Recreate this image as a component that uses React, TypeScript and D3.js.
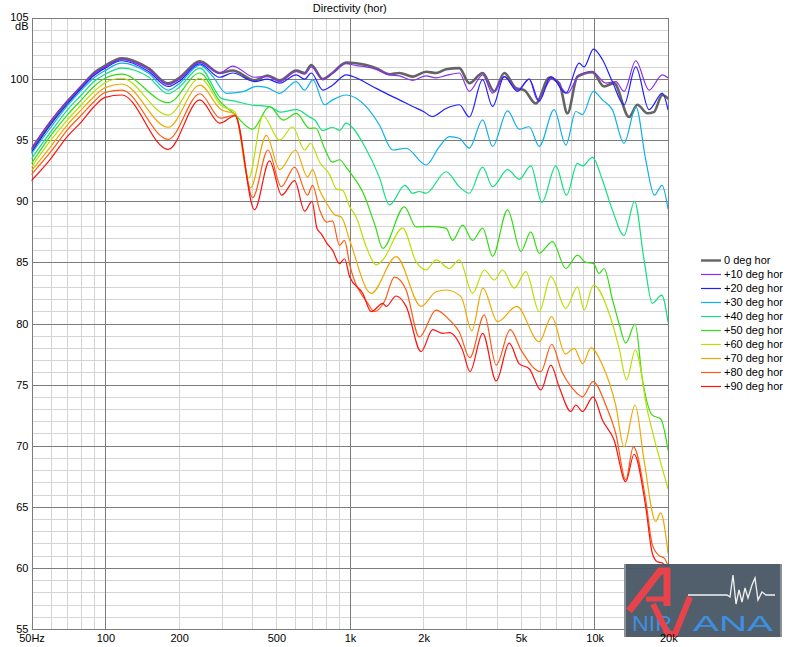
import React from 'react';
import * as d3 from 'd3';

type Pt = [number, number];

const TITLE = 'Directivity (hor)';
const Y_UNIT = 'dB';

const SERIES_NAMES = ['0 deg hor', '+10 deg hor', '+20 deg hor', '+30 deg hor', '+40 deg hor', '+50 deg hor', '+60 deg hor', '+70 deg hor', '+80 deg hor', '+90 deg hor'];
const SERIES_COLORS = ['#646464', '#8c2cf0', '#2020ff', '#10b0e8', '#10e080', '#30dd10', '#b8e000', '#f0a800', '#ff5a10', '#ff1010'];

const deg0: Pt[] = [[50,94.2],[60,96.5],[70,98.15],[80,99.4],[90,100.5],[100,101.1],[117,101.7],[150,100.9],[181,99.65],[200,100.07],[244,101.45],[294,100.5],[332,100.7],[408,99.9],[461,100.3],[517,99.9],[604,100.7],[654,100.5],[696,101.15],[776,100.0],[850,100.5],[967,101.35],[1063,101.3],[1167,101.15],[1282,100.9],[1453,100.4],[1596,100.5],[1809,100.2],[2051,100.6],[2254,100.5],[2476,100.8],[2805,100.9],[3081,99.67],[3493,100.5],[3898,99.0],[4281,100.5],[4780,99.26],[5165,99.1],[5765,98.0],[6535,100.1],[7180,99.67],[7760,97.2],[8525,100.2],[9820,100.57],[10955,99.4],[12035,99.67],[13865,96.9],[14990,97.9],[16465,97.2],[17500,97.3],[18960,98.7],[20000,98.4]];

const deg10: Pt[] = [[50,94.35],[60,96.6],[70,98.2],[80,99.45],[90,100.45],[100,101.0],[117,101.6],[150,100.8],[181,99.55],[200,99.95],[244,101.35],[294,100.5],[332,101.07],[408,100.15],[461,100.2],[517,99.8],[604,100.6],[654,100.4],[696,101.0],[776,99.95],[850,100.5],[967,101.26],[1063,101.1],[1167,101.0],[1282,100.8],[1453,100.35],[1596,100.27],[1809,99.9],[2051,100.27],[2254,100.1],[2476,100.3],[2805,100.5],[3081,99.0],[3493,100.35],[3836,98.85],[4281,100.2],[4850,99.1],[5415,100.0],[5855,98.3],[6740,100.1],[7760,98.85],[8665,100.35],[9820,100.6],[11130,99.67],[12230,99.8],[13225,99.0],[14765,101.5],[16730,99.1],[18960,100.35],[20000,100.1]];

const deg20: Pt[] = [[50,94.0],[60,96.3],[70,97.95],[80,99.25],[90,100.3],[100,100.9],[117,101.5],[150,100.65],[181,99.4],[200,99.8],[244,101.25],[294,100.15],[332,100.5],[408,99.8],[461,100.0],[517,99.67],[604,100.35],[654,100.0],[696,100.5],[776,99.1],[850,99.5],[967,100.35],[1063,100.1],[1240,99.4],[1400,98.85],[1596,98.3],[1809,97.76],[2000,97.35],[2170,96.94],[2476,97.6],[2805,97.9],[3081,96.9],[3493,99.95],[3836,97.76],[4281,100.2],[4850,99.0],[5415,100.0],[5950,98.2],[6640,100.2],[7645,98.85],[8665,101.3],[9080,101.0],[9915,102.46],[10785,101.6],[11845,99.8],[13225,97.9],[14765,101.0],[16730,97.5],[18960,98.85],[20000,97.5]];

const deg30: Pt[] = [[50,93.9],[60,96.06],[70,97.8],[80,99.1],[90,100.1],[100,100.7],[117,101.3],[150,100.5],[181,99.1],[200,99.6],[244,101.15],[276,100.2],[313,98.84],[366,98.97],[415,99.4],[456,99.33],[517,98.84],[604,99.8],[654,99.1],[707,99.93],[789,97.9],[852,98.3],[967,98.7],[1063,98.43],[1167,97.74],[1322,96.24],[1499,94.2],[1700,94.34],[2051,92.97],[2325,94.47],[2554,95.3],[2805,95.16],[3081,94.35],[3493,96.67],[3836,94.5],[4418,97.4],[4930,95.9],[5415,96.1],[5950,94.5],[6850,97.5],[7645,94.6],[8400,97.35],[8940,97.1],[9915,99.0],[10785,98.3],[11845,97.5],[13225,94.75],[14800,97.7],[16215,93.4],[17600,90.5],[18900,91.3],[20000,89.4]];

const deg40: Pt[] = [[50,93.5],[60,95.7],[70,97.47],[80,98.7],[90,99.8],[100,100.4],[117,100.9],[150,100.2],[181,98.8],[200,99.3],[244,100.9],[300,98.4],[340,98.2],[390,97.9],[470,97.75],[520,97.3],[605,97.5],[685,96.9],[720,96.65],[775,95.8],[850,96.06],[910,95.8],[965,96.4],[1030,96.0],[1150,94.5],[1320,92.0],[1453,89.7],[1680,91.3],[1810,90.66],[1925,90.8],[2050,90.66],[2476,92.42],[2805,91.2],[3081,90.66],[3493,92.8],[3836,91.2],[4418,92.6],[4930,91.8],[5500,92.9],[6100,89.9],[6960,92.9],[7690,90.5],[8525,93.1],[8940,92.9],[9820,93.6],[10785,91.75],[11845,89.3],[13225,87.2],[14600,90.0],[15965,85.2],[17255,81.65],[18850,82.33],[20000,80.15]];

const deg50: Pt[] = [[50,93.1],[60,95.4],[70,97.06],[80,98.3],[90,99.4],[100,100.07],[117,100.4],[181,98.07],[244,100.5],[294,98.2],[335,97.2],[400,95.9],[470,97.74],[535,96.65],[605,97.2],[685,95.97],[725,96.0],[790,94.3],[850,93.2],[910,93.4],[965,92.8],[1000,92.4],[1140,90.6],[1270,88.0],[1365,86.15],[1673,89.55],[1867,87.9],[2116,87.95],[2476,87.8],[2633,86.8],[2893,88.05],[3179,86.8],[3493,87.8],[3836,85.5],[4418,89.3],[5010,85.9],[5500,87.5],[5950,85.75],[6740,86.7],[7645,84.5],[8525,85.6],[9225,85.0],[9915,84.9],[10455,84.1],[10955,84.5],[11845,82.0],[12615,80.0],[13440,78.4],[14670,79.96],[15700,75.5],[17255,72.5],[18670,72.2],[20000,69.65]];

const deg60: Pt[] = [[50,92.8],[60,95.0],[70,96.65],[80,97.9],[90,98.97],[100,99.7],[117,100.07],[181,97.06],[244,100.07],[300,97.8],[340,97.3],[386,91.9],[442,97.0],[517,95.0],[584,96.1],[654,94.2],[691,94.75],[753,93.2],[827,92.2],[883,91.0],[934,90.9],[1000,89.56],[1063,88.7],[1167,86.3],[1282,84.8],[1365,85.2],[1646,87.8],[1867,85.06],[2051,84.38],[2254,85.2],[2554,84.5],[2805,85.2],[3179,82.47],[3548,84.38],[3898,83.56],[4213,84.38],[4704,82.9],[5250,84.24],[5950,80.97],[6640,83.83],[7645,81.24],[8525,83.0],[9080,81.1],[9915,83.15],[11485,80.84],[12615,78.0],[13540,75.4],[14700,77.83],[16465,72.9],[18380,69.1],[20000,66.5]];

const deg70: Pt[] = [[50,92.5],[60,94.5],[70,96.24],[80,97.5],[90,98.56],[100,99.3],[117,99.6],[181,96.06],[244,99.5],[298,97.5],[340,97.15],[393,91.1],[456,95.4],[517,92.6],[600,94.2],[672,92.0],[705,92.6],[753,90.9],[796,90.0],[867,88.9],[925,88.7],[1000,86.8],[1224,82.47],[1548,85.47],[1957,81.4],[2254,82.6],[2476,82.74],[2850,82.2],[3155,79.4],[3500,82.9],[4020,80.15],[4815,81.4],[5950,78.5],[6690,80.56],[7620,77.5],[8270,77.97],[8965,76.7],[9670,78.0],[10785,76.6],[12230,73.3],[13225,69.9],[14670,73.33],[15965,68.8],[17810,63.8],[18670,64.5],[20000,61.2]];

const deg80: Pt[] = [[50,92.2],[60,94.06],[70,95.83],[80,97.06],[90,98.15],[100,98.9],[117,99.1],[181,95.07],[244,98.8],[296,96.8],[340,97.05],[401,90.3],[463,94.2],[525,91.2],[595,92.8],[672,90.5],[705,91.3],[753,89.3],[804,88.3],[850,88.4],[908,86.4],[952,86.8],[1000,84.8],[1185,81.65],[1262,80.97],[1386,81.8],[1523,83.8],[1700,82.74],[1926,78.9],[2254,81.1],[2554,80.3],[2805,79.3],[3095,77.2],[3548,80.7],[3970,76.6],[4530,79.5],[5025,77.8],[6045,76.06],[6690,78.3],[7350,76.1],[8135,74.7],[8940,74.0],[9880,75.24],[11130,73.33],[12230,71.0],[13440,67.2],[14435,69.9],[16215,65.56],[17255,61.9],[18380,61.0],[19300,60.8],[20000,60.2]];

const deg90: Pt[] = [[50,91.7],[60,93.5],[70,95.3],[80,96.5],[90,97.74],[100,98.5],[117,98.7],[181,94.25],[244,98.3],[294,96.4],[340,97.0],[408,89.3],[470,93.3],[527,90.5],[595,91.7],[654,89.2],[701,90.0],[734,87.8],[767,87.3],[804,86.6],[850,86.0],[908,84.9],[952,85.3],[1000,83.8],[1130,82.47],[1224,80.97],[1365,81.65],[1409,81.4],[1548,82.25],[1700,81.4],[1957,77.7],[2183,79.5],[2398,79.2],[2554,79.25],[2893,77.8],[3102,76.06],[3493,79.2],[3970,75.3],[4488,78.4],[4930,76.7],[5415,76.3],[6045,74.56],[6640,76.6],[7180,74.8],[8015,72.8],[8400,73.33],[8940,72.8],[9880,74.0],[10785,72.1],[12035,70.47],[13440,67.05],[14530,69.3],[16215,65.0],[17255,61.2],[18085,60.5],[18960,60.4],[20000,59.9]];

const SERIES_DATA: Pt[][] = [deg0, deg10, deg20, deg30, deg40, deg50, deg60, deg70, deg80, deg90];

const X_TICK_VALUES = [50, 100, 200, 500, 1000, 2000, 5000, 10000, 20000];
const X_TICK_LABELS = ['50Hz', '100', '200', '500', '1k', '2k', '5k', '10k', '20k'];
const Y_TICK_VALUES = [55, 60, 65, 70, 75, 80, 85, 90, 95, 100, 105];

const FONT = '"Liberation Sans", Arial, sans-serif';

export default function App() {
  const W = 792;
  const H = 647;
  const x = d3.scaleLog().domain([50, 20000]).range([31.5, 668]);
  const y = d3.scaleLinear().domain([55, 105]).range([629, 18]);

  const px = (v: number) => Math.round(v) + 0.5;

  const minorF: number[] = [];
  const majorF: number[] = [];
  [10, 100, 1000, 10000].forEach((dec) => {
    for (let k = 1; k <= 9; k++) {
      const f = k * dec;
      if (f <= 50 || f >= 20000) continue;
      if (k === 1) majorF.push(f);
      else minorF.push(f);
    }
  });
  const dbLines = d3.range(56, 105, 1);

  const line = d3
    .line<Pt>()
    .x((d) => x(d[0]))
    .y((d) => y(d[1]))
    .curve(d3.curveMonotoneX);

  const x0 = x(50);
  const x1 = x(20000);
  const yTop = y(105);
  const yBot = y(55);

  const legendX = 701;
  const legendY0 = 260;
  const legendStep = 14;

  return (
    <svg
      width={W}
      height={H}
      style={{ position: 'absolute', left: 0, top: 0, background: '#fff' }}
      fontFamily={FONT}
    >
      <rect x={0} y={0} width={W} height={H} fill="#ffffff" />
      <defs>
        <clipPath id="plotclip">
          <rect x={x0} y={yTop} width={x1 - x0} height={yBot - yTop} />
        </clipPath>
      </defs>
      <g shapeRendering="crispEdges" stroke="#d4d4d4" strokeWidth={1}>
        {dbLines
          .filter((v) => v % 5 !== 0)
          .map((v) => (
            <line key={'hy' + v} x1={x0} x2={x1} y1={px(y(v))} y2={px(y(v))} />
          ))}
        {minorF.map((f) => (
          <line key={'vx' + f} x1={px(x(f))} x2={px(x(f))} y1={yTop} y2={yBot} />
        ))}
      </g>
      <g shapeRendering="crispEdges" stroke="#7c7c7c" strokeWidth={1}>
        {dbLines
          .filter((v) => v % 5 === 0)
          .map((v) => (
            <line key={'Hy' + v} x1={x0} x2={x1} y1={px(y(v))} y2={px(y(v))} />
          ))}
        {majorF.map((f) => (
          <line key={'Vx' + f} x1={px(x(f))} x2={px(x(f))} y1={yTop} y2={yBot} />
        ))}
        <rect x={px(x0)} y={px(yTop)} width={Math.round(x1) - Math.round(x0)} height={Math.round(yBot) - Math.round(yTop)} fill="none" />
      </g>

      <g clipPath="url(#plotclip)" fill="none" strokeLinejoin="round" strokeLinecap="round">
        {SERIES_DATA.map((data, i) => (
          <path
            key={SERIES_NAMES[i]}
            d={line(data) || ''}
            stroke={SERIES_COLORS[i]}
            strokeWidth={i === 0 ? 2.6 : 1.2}
          />
        ))}
      </g>

      <text x={(x0 + x1) / 2} y={12} textAnchor="middle" fontSize={11} fill="#000">
        {TITLE}
      </text>

      <g fontSize={11} fill="#000" textAnchor="end">
        {Y_TICK_VALUES.map((v) => (
          <text key={'yl' + v} x={28.5} y={y(v) + (v === 105 ? 2.5 : 4)}>
            {v}
          </text>
        ))}
        <text x={28.5} y={30}>
          {Y_UNIT}
        </text>
      </g>

      <g fontSize={11} fill="#000">
        {SERIES_NAMES.map((name, i) => {
          const yy = legendY0 + i * legendStep;
          return (
            <g key={'lg' + i}>
              <line
                x1={legendX}
                x2={legendX + 20}
                y1={yy + 0.5}
                y2={yy + 0.5}
                stroke={SERIES_COLORS[i]}
                strokeWidth={i === 0 ? 2.4 : 1.2}
              />
              <text x={legendX + 23} y={yy + 4}>
                {name}
              </text>
            </g>
          );
        })}
      </g>

      {/* watermark logo */}
      <g>
        <rect x={624} y={564} width={158} height={73} fill="#4a5866" opacity={0.96} />
        <rect x={624} y={564} width={2} height={73} fill="#8a9299" />
        <rect x={780} y={564} width={2} height={73} fill="#8a9299" />
        <path
          d="M688,595 L727,595 L730,597 L733,575 L736,604 L739,590 L742,602 L745,588 L748,598 L752,585 L755,578 L758,600 L762,592 L766,595 L775,595"
          fill="none"
          stroke="#f2f2f2"
          strokeWidth={1.3}
        />
        <text x={632} y={631} fontSize={22} fill="#3d8fe0" textLength={40} lengthAdjust="spacingAndGlyphs">
          NIR
        </text>
        <text x={693} y={631} fontSize={22} fill="#3d8fe0" textLength={80} lengthAdjust="spacingAndGlyphs">
          ANA
        </text>
        <path d="M629,611 L660,571 L667,571 L667,606" fill="none" stroke="#e8434a" strokeWidth={7} strokeLinejoin="miter" />
        <path d="M646,599 L667,599" fill="none" stroke="#e8434a" strokeWidth={5} />
        <path d="M653,604 L668,634 L675,634 L690,597" fill="none" stroke="#e8434a" strokeWidth={6} strokeLinejoin="miter" />
      </g>

      <g fontSize={11} fill="#000" textAnchor="middle">
        {X_TICK_VALUES.map((f, i) => (
          <text key={'xl' + f} x={x(f) + (i === 0 ? 0.5 : 0.8)} y={642}>
            {X_TICK_LABELS[i]}
          </text>
        ))}
      </g>
    </svg>
  );
}
